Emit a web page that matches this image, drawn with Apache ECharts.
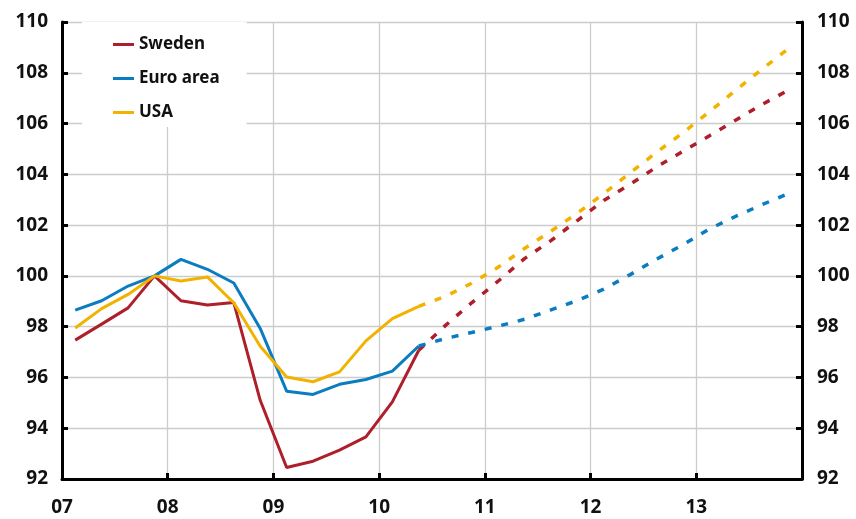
<!DOCTYPE html>
<html>
<head>
<meta charset="utf-8">
<script src="https://cdn.jsdelivr.net/npm/echarts@6/dist/echarts.min.js"></script>
<style>
html,body{margin:0;padding:0;background:#fff;}
#chart{width:856px;height:519px;}
</style>
</head>
<body>
<div id="chart"></div>
<script>
// Quarters 2007Q1 .. 2013Q4
var quarters = [];
for (var y = 2007; y <= 2013; y++) { for (var q = 1; q <= 4; q++) { quarters.push(y + 'Q' + q); } }

// Outcome 2007Q1 .. 2010Q2
var swedenOutcome = [97.47, 98.1, 98.74, 100.0, 99.02, 98.85, 98.95, 95.1, 92.45, 92.7, 93.14, 93.66, 95.04, 97.07];
var euroOutcome   = [98.65, 99.02, 99.6, 100.0, 100.65, 100.26, 99.72, 97.93, 95.46, 95.33, 95.73, 95.92, 96.25, 97.24];
var usaOutcome    = [97.95, 98.71, 99.27, 100.0, 99.8, 99.96, 98.94, 97.23, 96.02, 95.83, 96.22, 97.44, 98.32, 98.8];

// Forecast 2010Q3 .. 2013Q4
var swedenForecast = [98.04, 98.94, 99.79, 100.68, 101.39, 102.18, 102.97, 103.61, 104.29, 104.91, 105.52, 106.14, 106.76, 107.32];
var euroForecast   = [97.53, 97.77, 98.02, 98.29, 98.66, 99.03, 99.48, 100.05, 100.66, 101.23, 101.85, 102.35, 102.81, 103.25];
var usaForecast    = [99.19, 99.71, 100.34, 101.08, 101.76, 102.47, 103.24, 104.06, 104.87, 105.64, 106.47, 107.32, 108.15, 108.96];

var yTicks = [92, 94, 96, 98, 100, 102, 104, 106, 108, 110];
var xTickLabels = ['07', '08', '09', '10', '11', '12', '13'];

var names = ['Sweden', 'Euro area', 'USA'];
var colors = ['#AE1F2C', '#0A7CC1', '#F2B200'];

// time of a quarter (mid-quarter, in years)
function qTime(label) {
  var yr = parseInt(label.slice(0, 4), 10), qq = parseInt(label.slice(5), 10);
  return yr + (qq - 0.5) / 4;
}
function outcomeData(vals) {
  return vals.map(function (v, i) { return [qTime(quarters[i]), v]; });
}
function forecastData(outVals, fcVals) {
  var n = outVals.length;
  var d = [[qTime(quarters[n - 1]), outVals[n - 1]]];
  fcVals.forEach(function (v, i) { d.push([qTime(quarters[n + i]), v]); });
  return d;
}

var outcomes = [swedenOutcome, euroOutcome, usaOutcome];
var forecasts = [swedenForecast, euroForecast, usaForecast];
var series = [];
for (var i = 0; i < 3; i++) {
  series.push({
    name: names[i] + ' forecast', type: 'line', symbol: 'none', silent: true,
    data: forecastData(outcomes[i], forecasts[i]),
    lineStyle: { color: colors[i], width: 3.5, type: [7, 10] }, z: 2
  });
}
for (var j = 0; j < 3; j++) {
  series.push({
    name: names[j], type: 'line', symbol: 'none', silent: true,
    data: outcomeData(outcomes[j]),
    itemStyle: { color: colors[j] },
    lineStyle: { color: colors[j], width: 3 }, z: 3
  });
}

var labelFont = { color: '#111', fontWeight: 'bold', fontSize: 19, fontFamily: 'Noto Sans' };

var chart = echarts.init(document.getElementById('chart'), null, { renderer: 'canvas' });
chart.setOption({
  animation: false,
  backgroundColor: '#fff',
  grid: { left: 62, right: 54, top: 22, bottom: 40, containLabel: false },
  legend: {
    data: names, orient: 'vertical', left: 82, top: 22,
    backgroundColor: '#fff', padding: [14, 27, 6, 31],
    icon: 'rect', itemWidth: 21, itemHeight: 3, itemGap: 17,
    textStyle: { color: '#111', fontWeight: 'bold', fontSize: 17, fontFamily: 'Noto Sans', lineHeight: 17 },
    selectedMode: false, z: 10
  },
  xAxis: {
    type: 'value', min: 2007, max: 2014, interval: 1,
    axisLine: { show: true, lineStyle: { color: '#000', width: 3 } },
    axisTick: { show: true, inside: true, length: 6, lineStyle: { color: '#000', width: 3 } },
    splitLine: { show: true, lineStyle: { color: '#cccccc', width: 1.3 } },
    axisLabel: Object.assign({ margin: 19, formatter: function (v) {
      var idx = Math.round(v - 2007); return xTickLabels[idx] !== undefined ? xTickLabels[idx] : ''; } }, labelFont)
  },
  yAxis: [
    {
      type: 'value', min: yTicks[0], max: yTicks[yTicks.length - 1], interval: 2, position: 'left',
      axisLine: { show: true, lineStyle: { color: '#000', width: 3 } },
      axisTick: { show: true, inside: true, length: 6, lineStyle: { color: '#000', width: 3 } },
      splitLine: { show: true, lineStyle: { color: '#cccccc', width: 1.3 } },
      axisLabel: Object.assign({ margin: 14 }, labelFont)
    },
    {
      type: 'value', min: yTicks[0], max: yTicks[yTicks.length - 1], interval: 2, position: 'right',
      axisLine: { show: true, lineStyle: { color: '#000', width: 3 } },
      axisTick: { show: true, inside: true, length: 6, lineStyle: { color: '#000', width: 3 } },
      splitLine: { show: false },
      axisLabel: Object.assign({ margin: 15 }, labelFont)
    }
  ],
  series: series
});
</script>
</body>
</html>
